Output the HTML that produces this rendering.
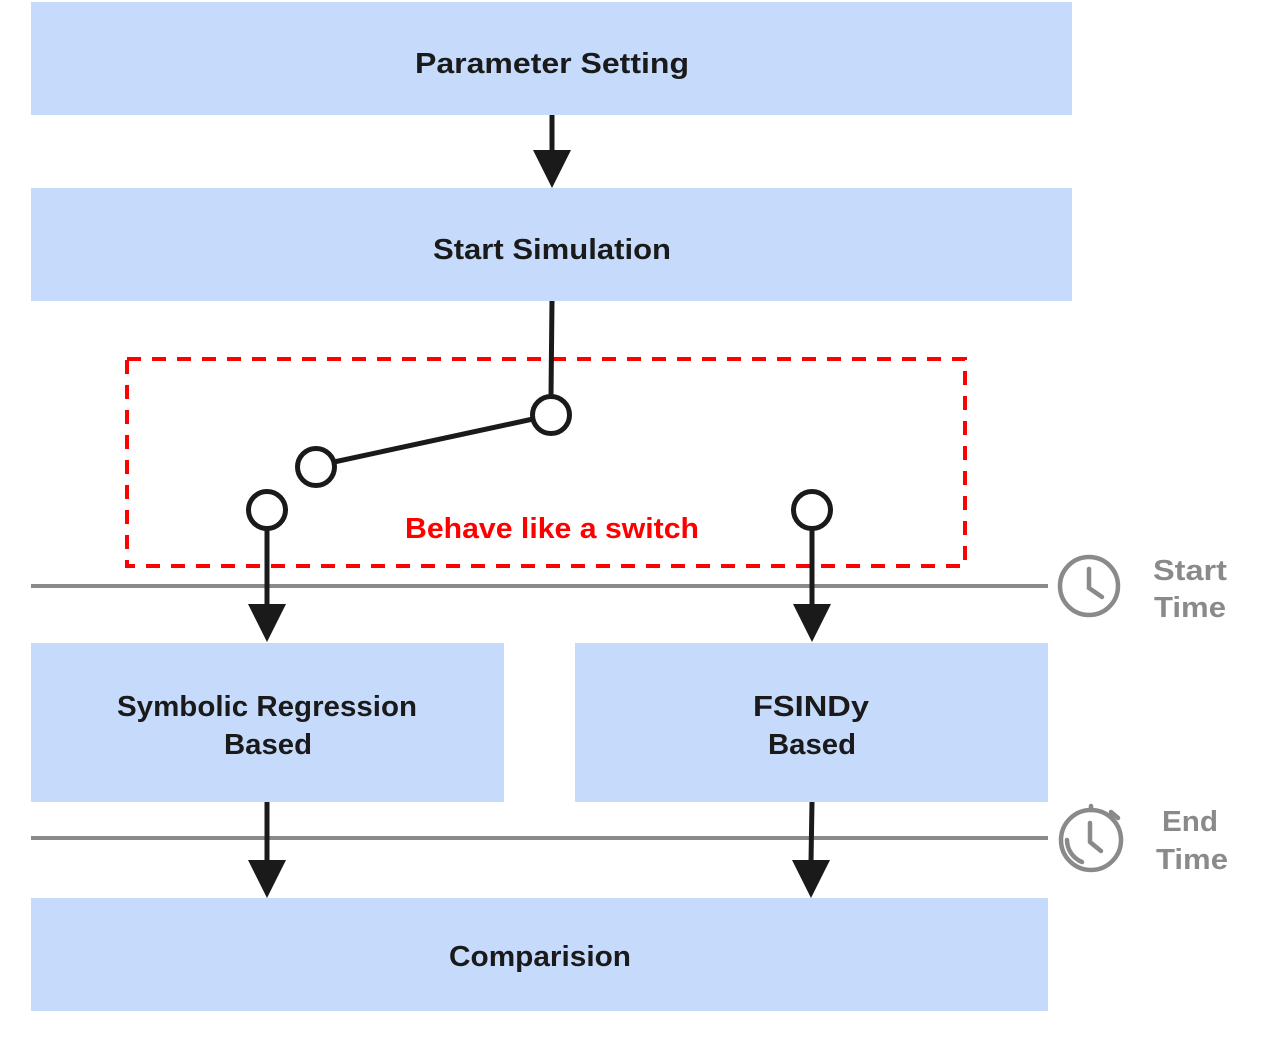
<!DOCTYPE html>
<html><head><meta charset="utf-8"><style>html,body{margin:0;padding:0;background:#fff}svg{display:block}</style></head>
<body>
<svg width="1269" height="1063" viewBox="0 0 1269 1063" xmlns="http://www.w3.org/2000/svg" font-family="Liberation Sans, sans-serif" font-weight="bold">
<g fill="#c6dbfc">
<rect x="31" y="2" width="1041" height="113"/>
<rect x="31" y="188" width="1041" height="113"/>
<rect x="31" y="643" width="473" height="159"/>
<rect x="575" y="643" width="473" height="159"/>
<rect x="31" y="898" width="1017" height="113"/>
</g>
<g stroke="#8a8a8a" stroke-width="4">
<line x1="31" y1="586" x2="1048" y2="586"/>
<line x1="31" y1="838" x2="1048" y2="838"/>
</g>
<rect x="127" y="359" width="838" height="207" fill="none" stroke="#ff0000" stroke-width="4" stroke-dasharray="14,11"/>
<g stroke="#1a1a1a" stroke-width="5" fill="none">
<line x1="552" y1="115" x2="552" y2="155"/>
<line x1="552" y1="301" x2="551" y2="396"/>
<line x1="533" y1="419" x2="334" y2="462"/>
<line x1="267" y1="529" x2="267" y2="608"/>
<line x1="812" y1="529" x2="812" y2="608"/>
<line x1="267" y1="802" x2="267" y2="862"/>
<line x1="812" y1="802" x2="811" y2="862"/>
</g>
<g stroke="#1a1a1a" stroke-width="5" fill="#fff">
<circle cx="551" cy="415" r="18.5"/>
<circle cx="316" cy="467" r="18.5"/>
<circle cx="267" cy="510" r="18.5"/>
<circle cx="812" cy="510" r="18.5"/>
</g>
<g fill="#1a1a1a">
<polygon points="533,150 571,150 552,188"/>
<polygon points="248,604 286,604 267,642"/>
<polygon points="793,604 831,604 812,642"/>
<polygon points="248,860 286,860 267,898"/>
<polygon points="792,860 830,860 811,898"/>
</g>
<g fill="#1a1a1a" font-size="29" text-anchor="middle">
<text x="552" y="73" textLength="274" lengthAdjust="spacingAndGlyphs">Parameter Setting</text>
<text x="552" y="259" textLength="238" lengthAdjust="spacingAndGlyphs">Start Simulation</text>
<text x="267" y="716" textLength="300" lengthAdjust="spacingAndGlyphs">Symbolic Regression</text>
<text x="268" y="754" textLength="88" lengthAdjust="spacingAndGlyphs">Based</text>
<text x="811" y="716" textLength="116" lengthAdjust="spacingAndGlyphs">FSINDy</text>
<text x="812" y="754" textLength="88" lengthAdjust="spacingAndGlyphs">Based</text>
<text x="540" y="966" textLength="182" lengthAdjust="spacingAndGlyphs">Comparision</text>
</g>
<text x="552" y="538" font-size="29" fill="#ff0000" text-anchor="middle" textLength="294" lengthAdjust="spacingAndGlyphs">Behave like a switch</text>
<g fill="#8a8a8a" font-size="29" text-anchor="middle">
<text x="1190" y="580" textLength="74" lengthAdjust="spacingAndGlyphs">Start</text>
<text x="1190" y="617" textLength="72" lengthAdjust="spacingAndGlyphs">Time</text>
<text x="1190" y="831" textLength="56" lengthAdjust="spacingAndGlyphs">End</text>
<text x="1192" y="869" textLength="72" lengthAdjust="spacingAndGlyphs">Time</text>
</g>
<g stroke="#8a8a8a" stroke-width="4.5" fill="none" stroke-linecap="round">
<circle cx="1089" cy="586" r="29"/>
<polyline points="1089,569 1089,588 1102,597"/>
<circle cx="1091" cy="840" r="30"/>
<polyline points="1090,823 1090,842 1101,851"/>
<path d="M1067,840 A24,24 0 0 0 1082,862"/>
<line x1="1091" y1="806" x2="1091" y2="810"/>
<line x1="1111" y1="812" x2="1118" y2="818"/>
</g>
</svg>
</body></html>
